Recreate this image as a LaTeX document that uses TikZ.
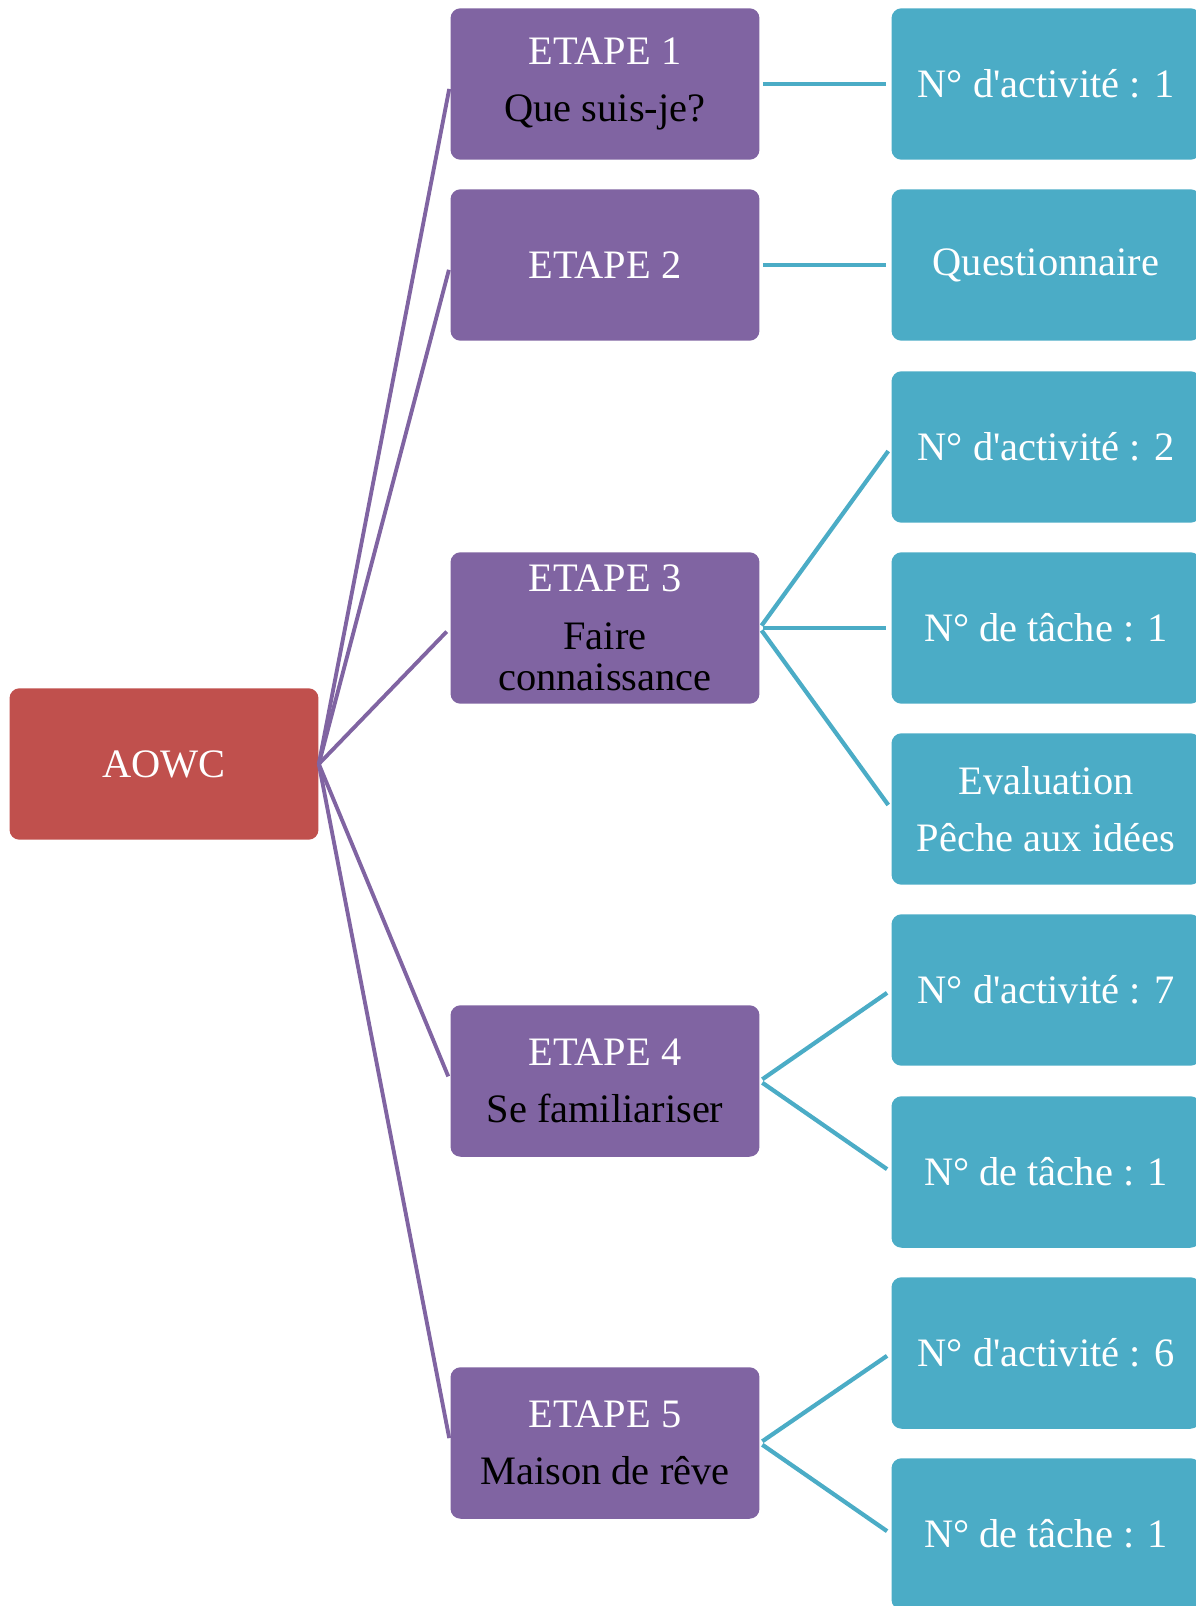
\documentclass[tikz,border=0pt]{standalone}
\usepackage{fontspec}
\setmainfont{Liberation Serif}[Ligatures=TeXOff]
\definecolor{aowcrouge}{HTML}{C0504D}
\definecolor{etapeviolet}{HTML}{8064A2}
\definecolor{tachebleu}{HTML}{4BACC6}

\begin{document}
\begin{tikzpicture}[x=0.02cm, y=-0.02cm,
	boite/.style={rounded corners=0.2cm, minimum width=6.18cm, minimum height=3.03cm,
		align=center, text=white, inner sep=2pt, font=\fontsize{23}{23.5}\selectfont},
	racine/.style={boite, fill=aowcrouge},
	etape/.style={boite, fill=etapeviolet},
	tache/.style={boite, fill=tachebleu},
	lienviolet/.style={draw=etapeviolet, line width=2.2pt, shorten >=0.1cm},
	lienbleu/.style={draw=tachebleu, line width=2.4pt, shorten <=0.06cm, shorten >=0.1cm}]
	\useasboundingbox (0,0) rectangle (1196,1606); % Rand wie im Original
	
	\node[racine] (aowc) at (164,764) {AOWC};
	
	% Etappen
	\node[etape] (e1) at (605,84) {ETAPE 1\\[9pt]\color{black}Que suis-je?};
	\node[etape] (e2) at (605,265) {ETAPE 2};
	\node[etape] (e3) at (605,628) {ETAPE 3\\[9pt]\color{black}Faire\\\color{black}connaissance};
	\node[etape] (e4) at (605,1081) {ETAPE 4\\[9pt]\color{black}Se familiariser};
	\node[etape] (e5) at (605,1443) {ETAPE 5\\[9pt]\color{black}Maison de rêve};
	
	% Aufgaben
	\node[tache] (t1) at (1046,84) {N° d'activité : 1};
	\node[tache] (t2) at (1046,265) {Questionnaire};
	\node[tache] (t3) at (1046,447) {N° d'activité : 2};
	\node[tache] (t4) at (1046,628) {N° de tâche : 1};
	\node[tache] (t5) at (1046,809) {Evaluation\\[9pt]Pêche aux idées};
	\node[tache] (t6) at (1046,990) {N° d'activité : 7};
	\node[tache] (t7) at (1046,1172) {N° de tâche : 1};
	\node[tache] (t8) at (1046,1353) {N° d'activité : 6};
	\node[tache] (t9) at (1046,1534) {N° de tâche : 1};
	
	\foreach \e in {e1,e2,e3,e4,e5}
		\draw[lienviolet] (aowc.east) -- (\e.west);
	
	\draw[lienbleu] (e1.east) -- (t1.west);
	\draw[lienbleu] (e2.east) -- (t2.west);
	\foreach \t in {t3,t4,t5}
		\draw[lienbleu] (e3.east) -- (\t.west);
	\foreach \t in {t6,t7}
		\draw[lienbleu] (e4.east) -- (\t.west);
	\foreach \t in {t8,t9}
		\draw[lienbleu] (e5.east) -- (\t.west);
\end{tikzpicture}
\end{document}
